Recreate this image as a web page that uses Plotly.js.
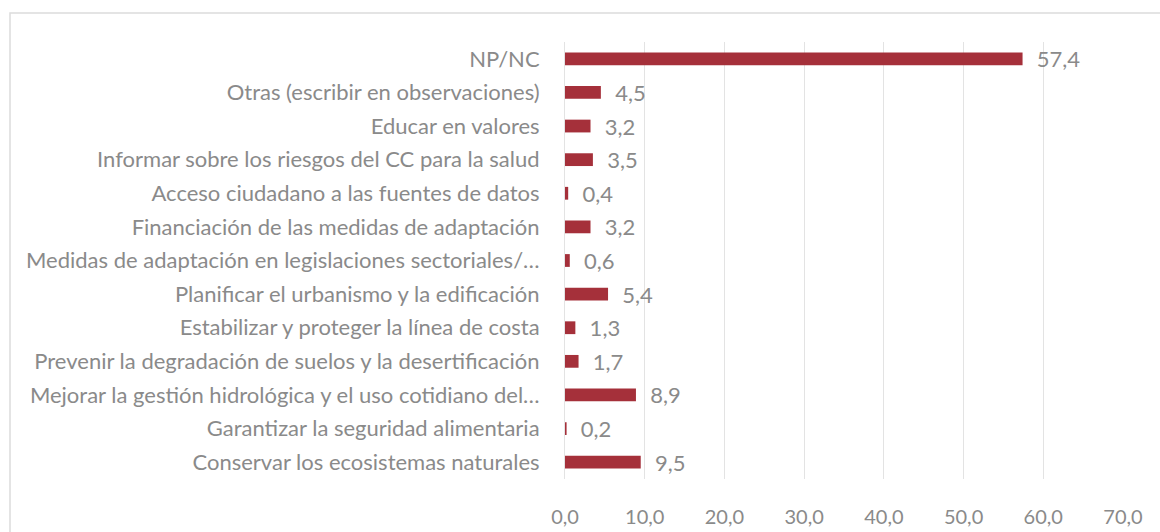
<!DOCTYPE html>
<html>
<head>
<meta charset="utf-8">
<script src="https://cdn.plot.ly/plotly-3.0.1.min.js"></script>
<style>html,body{margin:0;padding:0;background:#fff;}#chart{width:1160px;height:532px;}</style>
</head>
<body>
<div id="chart"></div>
<script>
// Categories listed bottom to top
const categories = [
  "Conservar los ecosistemas naturales",
  "Garantizar la seguridad alimentaria",
  "Mejorar la gestión hidrológica y el uso cotidiano del…",
  "Prevenir la degradación de suelos y la desertificación",
  "Estabilizar y proteger la línea de costa",
  "Planificar el urbanismo y la edificación",
  "Medidas de adaptación en legislaciones sectoriales/…",
  "Financiación de las medidas de adaptación",
  "Acceso ciudadano a las fuentes de datos",
  "Informar sobre los riesgos del CC para la salud",
  "Educar en valores",
  "Otras (escribir en observaciones)",
  "NP/NC"
];
const values = [9.5, 0.2, 8.9, 1.7, 1.3, 5.4, 0.6, 3.2, 0.4, 3.5, 3.2, 4.5, 57.4];
const tickValues = [0, 10, 20, 30, 40, 50, 60, 70];

const W = 1160, H = 532;
const m = {l: 565, r: 37, t: 42, b: 53};
const pw = W - m.l - m.r, ph = H - m.t - m.b;
const px = v => (v - m.l) / pw;
const py = v => 1 - (v - m.t) / ph;

const FONT = 'Lato, sans-serif';
const GREY = '#8a8a8a';

const trace = {
  type: 'bar',
  orientation: 'h',
  y: categories,
  x: values,
  marker: {color: '#A5303A'},
  texttemplate: '\u00a0\u00a0%{x:.1f}',
  textposition: 'outside',
  constraintext: 'none',
  cliponaxis: false,
  textfont: {family: FONT, size: 22, color: GREY},
  hoverinfo: 'none'
};

const layout = {
  width: W, height: H,
  margin: m,
  separators: ',.',
  paper_bgcolor: '#ffffff',
  plot_bgcolor: '#ffffff',
  showlegend: false,
  bargap: 0.62,
  font: {family: FONT, size: 20, color: GREY},
  xaxis: {
    range: [0, 70],
    tickvals: tickValues,
    tickformat: '.1f',
    showgrid: true,
    gridcolor: '#e3e3e3',
    gridwidth: 1,
    zeroline: false,
    showline: false,
    ticks: '',
    ticklabelstandoff: 24,
    tickfont: {family: FONT, size: 20, color: GREY},
    fixedrange: true
  },
  yaxis: {
    type: 'category',
    categoryorder: 'array',
    categoryarray: categories,
    showgrid: false,
    zeroline: false,
    showline: true,
    linecolor: '#e3e3e3',
    linewidth: 1,
    ticks: '',
    ticklabelstandoff: 20,
    tickfont: {family: FONT, size: 22, color: GREY},
    fixedrange: true
  },
  shapes: [{
    type: 'rect', xref: 'paper', yref: 'paper',
    x0: px(10), x1: px(1300), y0: py(13), y1: py(700),
    line: {color: '#dcdcdc', width: 1.5}, fillcolor: 'rgba(0,0,0,0)', layer: 'below'
  }]
};

Plotly.newPlot('chart', [trace], layout, {staticPlot: true, displayModeBar: false});
</script>
</body>
</html>
